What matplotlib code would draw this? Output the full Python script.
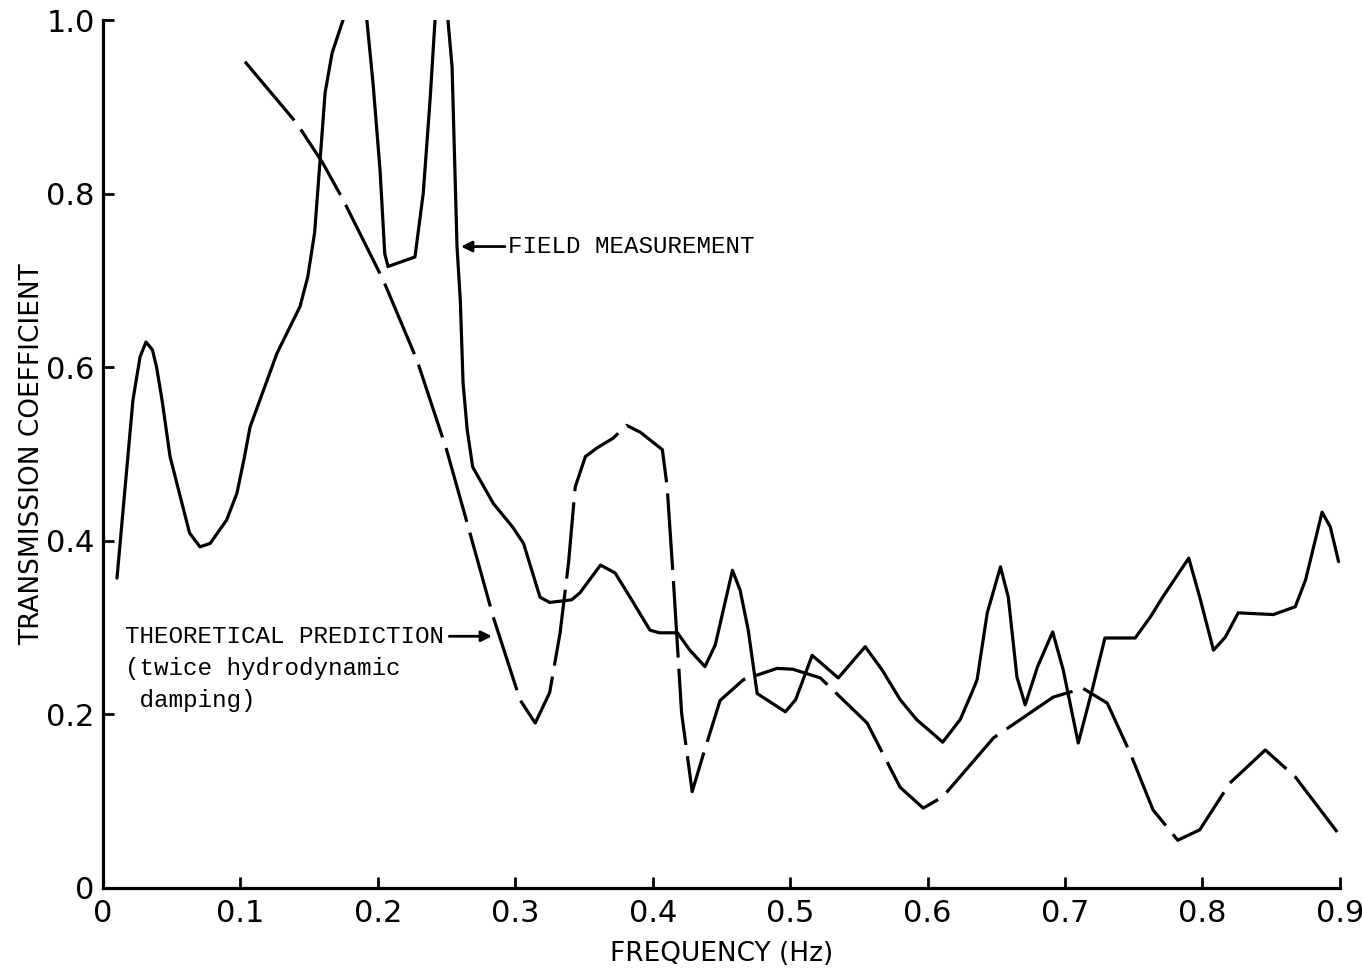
import matplotlib
matplotlib.use("Agg")
import matplotlib.pyplot as plt

# Field measurement (solid curve): frequency (Hz), transmission coefficient
field_f = [0.0102, 0.0218, 0.027, 0.0313, 0.036, 0.039, 0.043, 0.0488, 0.063, 0.0706, 0.078, 0.090,
           0.0975, 0.103, 0.107, 0.1266, 0.1434, 0.149, 0.154, 0.158, 0.1616, 0.1667,
           0.1747, 0.184, 0.192, 0.1965, 0.2016, 0.205, 0.2074, 0.227, 0.233, 0.238,
           0.2416, 0.2465, 0.251, 0.254, 0.2576, 0.260, 0.262, 0.265, 0.269, 0.284,
           0.298, 0.306, 0.318, 0.325, 0.341, 0.347, 0.362, 0.3726, 0.3835, 0.398,
           0.405, 0.418, 0.427, 0.438, 0.4455, 0.458, 0.4636, 0.4695, 0.476, 0.4965,
           0.504, 0.516, 0.535, 0.5546, 0.567, 0.580, 0.592, 0.611, 0.6237, 0.633,
           0.636, 0.6434, 0.653, 0.6587, 0.665, 0.671, 0.680, 0.691, 0.6987, 0.7096,
           0.7197, 0.729, 0.751, 0.762, 0.771, 0.790, 0.798, 0.808, 0.8166, 0.826,
           0.8515, 0.8675, 0.875, 0.887, 0.893, 0.899]
field_t = [0.357, 0.562, 0.612, 0.629, 0.620, 0.600, 0.562, 0.497, 0.409, 0.393, 0.397, 0.424,
           0.455, 0.497, 0.531, 0.616, 0.670, 0.704, 0.755, 0.839, 0.916, 0.962,
           1.000, 1.150, 1.000, 0.927, 0.827, 0.731, 0.716, 0.727, 0.800, 0.908,
           1.000, 1.120, 1.000, 0.946, 0.739, 0.677, 0.582, 0.528, 0.485, 0.443,
           0.416, 0.397, 0.335, 0.329, 0.332, 0.340, 0.372, 0.363, 0.335, 0.297,
           0.294, 0.294, 0.274, 0.255, 0.280, 0.366, 0.343, 0.297, 0.224, 0.203,
           0.217, 0.268, 0.242, 0.278, 0.251, 0.217, 0.194, 0.168, 0.194, 0.228,
           0.240, 0.317, 0.370, 0.335, 0.243, 0.211, 0.255, 0.295, 0.251, 0.167,
           0.228, 0.288, 0.288, 0.312, 0.335, 0.380, 0.335, 0.274, 0.289, 0.317,
           0.315, 0.324, 0.355, 0.433, 0.416, 0.376]

# Theoretical prediction (dashed curve)
theory_f = [0.1033, 0.141, 0.160, 0.1747, 0.204, 0.2285, 0.250, 0.267, 0.284, 0.3035,
            0.3145, 0.325, 0.3326, 0.3387, 0.3436, 0.351, 0.3595, 0.371, 0.381, 0.391,
            0.407, 0.4105, 0.415, 0.421, 0.4287, 0.437, 0.449, 0.466, 0.4905, 0.502,
            0.522, 0.556, 0.580, 0.5968, 0.611, 0.648, 0.6915, 0.713, 0.7307, 0.7475,
            0.764, 0.782, 0.798, 0.820, 0.8457, 0.8675, 0.898]
theory_t = [0.952, 0.881, 0.835, 0.793, 0.700, 0.608, 0.505, 0.409, 0.312, 0.2166,
            0.190, 0.225, 0.294, 0.374, 0.462, 0.497, 0.507, 0.518, 0.533, 0.525,
            0.505, 0.462, 0.355, 0.2016, 0.111, 0.155, 0.216, 0.240, 0.253, 0.252,
            0.242, 0.190, 0.116, 0.092, 0.105, 0.173, 0.220, 0.230, 0.213, 0.155,
            0.090, 0.055, 0.067, 0.121, 0.159, 0.128, 0.0645]

x_ticks = [0, 0.1, 0.2, 0.3, 0.4, 0.5, 0.6, 0.7, 0.8, 0.9]
x_tick_labels = ["0", "0.1", "0.2", "0.3", "0.4", "0.5", "0.6", "0.7", "0.8", "0.9"]
y_ticks = [0, 0.2, 0.4, 0.6, 0.8, 1.0]
y_tick_labels = ["0", "0.2", "0.4", "0.6", "0.8", "1.0"]

plot_font = ["DejaVu Sans"]
type_font = ["Liberation Mono", "DejaVu Sans Mono"]

fig = plt.figure(figsize=(13.62, 9.71), dpi=100)
ax = fig.add_axes([0.0756, 0.0855, 0.9082, 0.8939])

ax.plot(field_f, field_t, color="black", lw=2.3, solid_joinstyle="round",
        solid_capstyle="round")
ax.plot(theory_f, theory_t, color="black", lw=2.3, linestyle=(0, (24, 3.5)),
        dash_joinstyle="round")

ax.set_xlim(0, 0.9)
ax.set_ylim(0, 1.0)
ax.spines["top"].set_visible(False)
ax.spines["right"].set_visible(False)
for s in ("left", "bottom"):
    ax.spines[s].set_linewidth(2.3)

ax.set_xticks(x_ticks)
ax.set_xticklabels(x_tick_labels, family=plot_font, fontsize=22)
ax.set_yticks(y_ticks)
ax.set_yticklabels(y_tick_labels, family=plot_font, fontsize=22)
ax.tick_params(axis="both", direction="in", length=8, width=2, pad=6)
ax.tick_params(axis="x", pad=8)

ax.set_xlabel("FREQUENCY (Hz)", family=plot_font, fontsize=19, labelpad=9)
ax.set_ylabel("TRANSMISSION COEFFICIENT", family=plot_font, fontsize=19, labelpad=1)

# annotations
ax.annotate("FIELD MEASUREMENT", xy=(0.2605, 0.739), xytext=(0.2945, 0.739),
            family=type_font, fontsize=17.5, va="center", ha="left",
            arrowprops=dict(arrowstyle="-|>", color="black", lw=2,
                            mutation_scale=16, shrinkA=0, shrinkB=0))
ax.annotate("", xy=(0.283, 0.290), xytext=(0.252, 0.290),
            arrowprops=dict(arrowstyle="-|>", color="black", lw=2,
                            mutation_scale=16, shrinkA=0, shrinkB=0))
ax.text(0.016, 0.290, "THEORETICAL PREDICTION", family=type_font, fontsize=17.5,
        va="center", ha="left")
ax.text(0.016, 0.253, "(twice hydrodynamic", family=type_font, fontsize=17.5,
        va="center", ha="left")
ax.text(0.016, 0.216, " damping)", family=type_font, fontsize=17.5,
        va="center", ha="left")

fig.savefig("out.png", dpi=100)
